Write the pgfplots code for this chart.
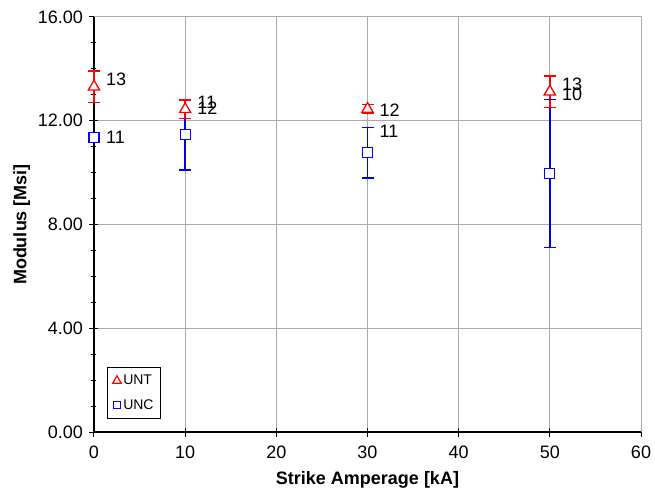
\documentclass[border=0pt]{standalone}
\usepackage{pgfplots}
\pgfplotsset{compat=1.18}
\usepackage{fontspec}
\setmainfont{Liberation Sans}

\definecolor{untred}{RGB}{255,0,0}
\definecolor{uncblue}{RGB}{0,0,255}
\definecolor{gridgray}{RGB}{170,170,170}

\begin{document}
\begin{tikzpicture}
\begin{axis}[
  scale only axis,
  width=547bp, height=415bp,
  xmin=0, xmax=60, ymin=0, ymax=16,
  xtick={0,10,...,60},
  ytick={0,4,...,16},
  minor ytick={1,2,3,5,6,7,9,10,11,13,14,15},
  axis x line*=bottom, axis y line*=left,
  axis line style={black, line width=1.1bp, -},
  tick align=center,
  major tick length=9bp,
  minor tick length=5bp,
  tick style={black, line width=1bp},
  minor tick style={black, line width=1bp},
  grid=major,
  major grid style={gridgray, line width=1bp},
  /pgf/number format/assume math mode=true,
  ticklabel style={font=\fontsize{18bp}{21bp}\selectfont},
  yticklabel style={xshift=-3bp, /pgf/number format/.cd, fixed, fixed zerofill, precision=2},
  xticklabel style={yshift=-6bp, /pgf/number format/.cd, fixed},
  xlabel={\textbf{Strike Amperage [kA]}},
  ylabel={\textbf{Modulus [Msi]}},
  label style={font=\fontsize{18bp}{21bp}\selectfont},
  xlabel style={yshift=-6bp},
  ylabel style={yshift=1bp},
  clip=false,
  unbounded coords=jump,
  legend style={
    at={(0.024,0.031)}, anchor=south west,
    draw=black, line width=1bp,
    font=\fontsize{14bp}{17bp}\selectfont,
    inner xsep=5bp, inner ysep=6bp, row sep=9bp,
    legend cell align=left,
    /tikz/every even column/.append style={column sep=3bp},
  },
  legend image code/.code={\draw[#1] plot coordinates {(0.2cm,0cm)};},
]

% grid lines at the top and right edges of the plot area
\addplot[gridgray, line width=1bp, forget plot] coordinates {(0,16) (60,16) (60,0)};

% UNC ranges (low, high) at each amperage
\addplot[uncblue, line width=1.8bp, mark=-, mark size=6bp,
  mark options={line width=1.5bp}, forget plot]
  coordinates {
    (10,10.10) (10,12.82) (10,nan)
    (30,9.80)  (30,11.74) (30,nan)
    (50,7.12)  (50,12.82)
  };

% UNT ranges (low, high) at each amperage
\addplot[untred, line width=1.8bp, mark=-, mark size=6bp,
  mark options={line width=1.5bp}, forget plot]
  coordinates {
    (0,12.71)  (0,13.91)  (0,nan)
    (10,12.08) (10,12.80) (10,nan)
    (30,12.28) (30,12.62) (30,nan)
    (50,12.52) (50,13.72)
  };

% unconditioned specimens, mean modulus
\addplot[uncblue, only marks, mark=square*, mark size=5bp, line width=1.3bp,
  mark options={fill=white}, forget plot]
  coordinates {(0,11.36) (10,11.46) (30,10.77) (50,9.97)};

% untreated specimens, mean modulus
\addplot[untred, only marks, mark=triangle*, mark size=6.5bp, line width=1.3bp,
  mark options={fill=white}, forget plot]
  coordinates {(0,13.31) (10,12.44) (30,12.45) (50,13.12)};

% sample counts
\addplot[draw=none, mark=none, forget plot,
  nodes near coords, point meta=explicit symbolic,
  nodes near coords style={anchor=west, xshift=12bp, yshift=0bp, inner sep=0pt,
    font=\fontsize{18bp}{21bp}\selectfont, text=black}]
  coordinates {
    (0,13.61)[13]
    (0,11.38)[11]
    (10,12.70)[11]
    (10,12.49)[12]
    (30,12.41)[12]
    (30,11.60)[11]
    (50,13.40)[13]
    (50,13.01)[10]
  };

\addlegendimage{only marks, mark=triangle, mark size=5bp, untred, line width=1.2bp}
\addlegendentry{UNT}
\addlegendimage{only marks, mark=square, mark size=3.6bp, uncblue, line width=1.2bp}
\addlegendentry{UNC}
\end{axis}
\pgfresetboundingbox
\path ([xshift=-94bp,yshift=-58bp]current axis.south west)
  rectangle ([xshift=14bp,yshift=17bp]current axis.north east);
\end{tikzpicture}
\end{document}
